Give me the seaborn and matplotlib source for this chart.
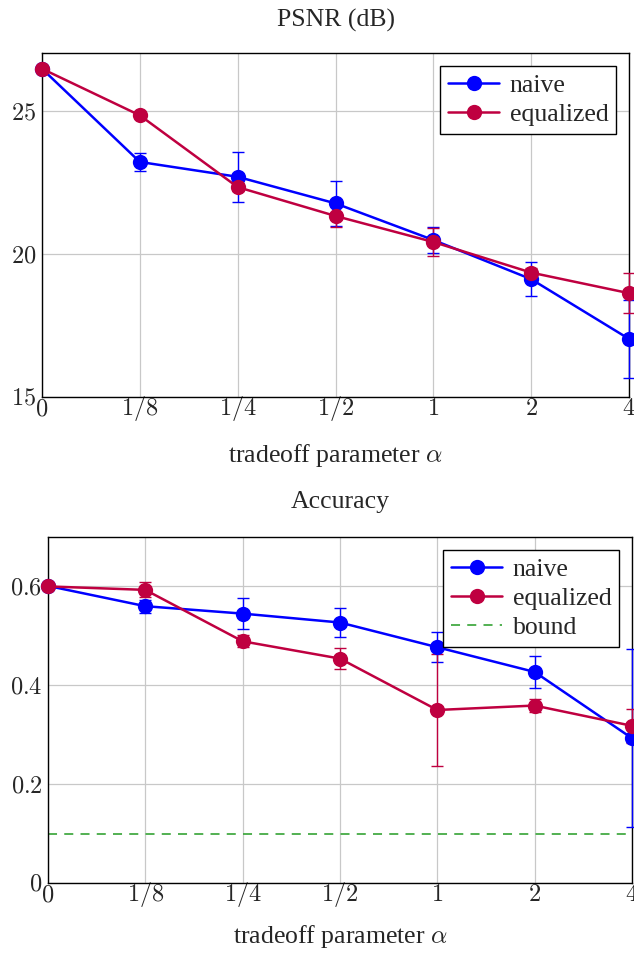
import numpy as np
import pandas as pd
import matplotlib
matplotlib.use("Agg")
import matplotlib.pyplot as plt
import seaborn as sns

sns.set_style("whitegrid")
plt.rcParams['font.family'] = ['Liberation Serif', 'DejaVu Serif']
plt.rcParams['mathtext.fontset'] = 'cm'

alpha_labels = ["0", "1/8", "1/4", "1/2", "1", "2", "4"]

psnr_naive = [26.48, 23.22, 22.70, 21.77, 20.49, 19.12, 17.03]
psnr_naive_err = [0.0, 0.31, 0.88, 0.80, 0.46, 0.60, 1.35]
psnr_equal = [26.48, 24.85, 22.34, 21.33, 20.42, 19.35, 18.63]
psnr_equal_err = [0.0, 0.10, 0.15, 0.37, 0.50, 0.15, 0.70]

acc_naive = [0.601, 0.560, 0.545, 0.527, 0.477, 0.427, 0.293]
acc_naive_err = [0.0, 0.013, 0.031, 0.029, 0.030, 0.033, 0.180]
acc_equal = [0.600, 0.593, 0.489, 0.454, 0.350, 0.359, 0.318]
acc_equal_err = [0.0, 0.015, 0.012, 0.021, 0.113, 0.014, 0.034]
acc_bound = 0.1

BLUE = "#0000ff"
RED = "#bf0040"
GREEN = "#44aa44"


def panel(ax, naive, naive_err, equal, equal_err, ylim, yticks, title,
          bound=None, title_pad=18, label_pad=9):
    x = np.arange(len(alpha_labels))
    df = pd.DataFrame({"x": np.concatenate([x, x]),
                       "y": naive + equal,
                       "method": ["naive"] * len(x) + ["equalized"] * len(x)})
    for name, vals, err, c in [("naive", naive, naive_err, BLUE),
                               ("equalized", equal, equal_err, RED)]:
        ax.errorbar(x, vals, yerr=err, fmt="none", ecolor=c, elinewidth=1,
                    capsize=4, capthick=1, clip_on=False, zorder=3)
    sns.lineplot(data=df, x="x", y="y", hue="method",
                 palette={"naive": BLUE, "equalized": RED},
                 marker="o", markersize=11, markeredgewidth=0, linewidth=1.8,
                 ax=ax, clip_on=False, zorder=4)
    if bound is not None:
        ax.axhline(bound, color=GREEN, ls=(0, (5, 4)), lw=1.3, label="bound", zorder=2)
    ax.set_xlim(0, len(x) - 1)
    ax.set_ylim(*ylim)
    ax.set_xticks(x)
    ax.set_xticklabels(["$%s$" % s for s in alpha_labels])
    ax.set_yticks(yticks)
    ax.set_yticklabels(["$%g$" % t for t in yticks])
    ax.tick_params(labelsize=17.5, length=0)
    ax.tick_params(axis="x", pad=13)
    ax.tick_params(axis="y", pad=4)
    for lab in ax.get_xticklabels():
        lab.set_verticalalignment("baseline")
    ax.grid(True, color="#c8c8c8", lw=0.9)
    for s in ax.spines.values():
        s.set_color("black")
        s.set_linewidth(1.0)
    ax.set_xlabel(r"tradeoff parameter $\alpha$", fontsize=18.5, labelpad=label_pad)
    ax.set_ylabel("")
    ax.set_title(title, fontsize=18.5, pad=title_pad)
    leg = ax.legend(loc="upper right", fontsize=18.5, frameon=True, fancybox=False,
                    edgecolor="black", framealpha=1, borderaxespad=0.5,
                    handlelength=2.0, handletextpad=0.4, labelspacing=0.25,
                    borderpad=0.3)
    leg.get_frame().set_linewidth(1.0)


fig = plt.figure(figsize=(6.34, 9.55), dpi=100)
ax1 = fig.add_axes([0.0662, 0.5843, 0.926, 0.3602])
ax2 = fig.add_axes([0.0757, 0.0754, 0.921, 0.3623])

panel(ax1, psnr_naive, psnr_naive_err, psnr_equal, psnr_equal_err,
      (15, 27.03), [15, 20, 25], "PSNR (dB)", title_pad=19, label_pad=14)
panel(ax2, acc_naive, acc_naive_err, acc_equal, acc_equal_err,
      (0, 0.7), [0, 0.2, 0.4, 0.6], "Accuracy", bound=acc_bound,
      title_pad=21, label_pad=10)

fig.savefig("out.png", dpi=100)
